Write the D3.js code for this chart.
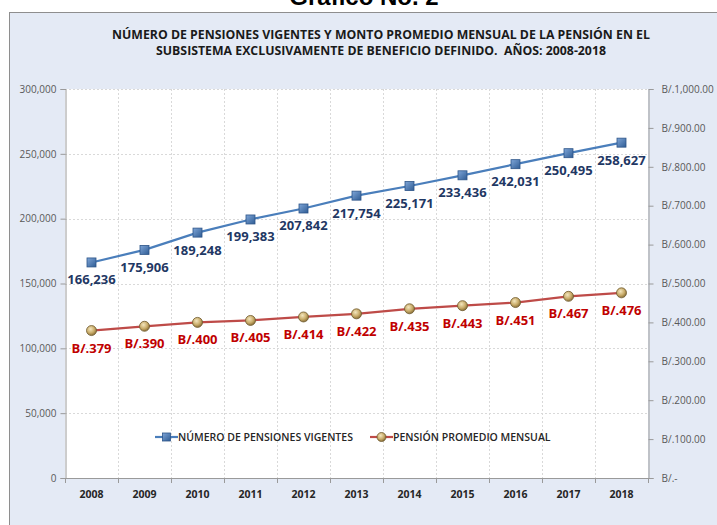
<!DOCTYPE html>
<html>
<head>
<meta charset="utf-8">
<title>Gráfico No. 2</title>
<script src="https://cdn.jsdelivr.net/npm/d3@7"></script>
<style>
  body { margin: 0; background: #fff; }
  svg { display: block; font-family: "Open Sans", "Noto Sans", sans-serif; }
</style>
</head>
<body>
<div id="chart"></div>
<script>
var years = ["2008", "2009", "2010", "2011", "2012", "2013", "2014", "2015", "2016", "2017", "2018"];
var pensiones = [166236, 175906, 189248, 199383, 207842, 217754, 225171, 233436, 242031, 250495, 258627];
var montos = [379, 390, 400, 405, 414, 422, 435, 443, 451, 467, 476];
var leftTicks = [0, 50000, 100000, 150000, 200000, 250000, 300000];
var rightTicks = [0, 100, 200, 300, 400, 500, 600, 700, 800, 900, 1000];
var rightTickLabels = ["B/.-", "B/.100.00", "B/.200.00", "B/.300.00", "B/.400.00", "B/.500.00",
  "B/.600.00", "B/.700.00", "B/.800.00", "B/.900.00", "B/.1,000.00"];
var titleLines = ["NÚMERO DE PENSIONES VIGENTES Y MONTO PROMEDIO MENSUAL DE LA PENSIÓN EN EL",
  "SUBSISTEMA EXCLUSIVAMENTE DE BENEFICIO DEFINIDO.  AÑOS: 2008-2018"];
var seriesNames = ["NÚMERO DE PENSIONES VIGENTES", "PENSIÓN PROMEDIO MENSUAL"];

var W = 717, H = 525;
var plot = {left: 65, right: 648, top: 89, bottom: 478};
var blue = "#4A7EBB", red = "#BE4B48";

var svg = d3.select("#chart").append("svg").attr("width", W).attr("height", H);

var defs = svg.append("defs");
var gSq = defs.append("linearGradient").attr("id", "gsq").attr("x1", 0).attr("y1", 0).attr("x2", 1).attr("y2", 1);
gSq.append("stop").attr("offset", "0%").attr("stop-color", "#7FA6D8");
gSq.append("stop").attr("offset", "100%").attr("stop-color", "#2F5C94");
var gCi = defs.append("radialGradient").attr("id", "gci").attr("cx", "40%").attr("cy", "35%").attr("r", "65%");
gCi.append("stop").attr("offset", "0%").attr("stop-color", "#F3E6BE");
gCi.append("stop").attr("offset", "60%").attr("stop-color", "#C9AC6A");
gCi.append("stop").attr("offset", "100%").attr("stop-color", "#8A7038");

// page heading, mostly above the top edge as in the scan
svg.append("text").attr("x", 364).attr("y", 5)
  .attr("text-anchor", "middle")
  .style("font-family", "'Liberation Sans', Arial, sans-serif")
  .style("font-weight", "bold").style("font-size", "24px").style("fill", "#000")
  .text("Gráfico No. 2");

// chart panel
svg.append("rect").attr("x", 9.5).attr("y", 12.5).attr("width", W).attr("height", H)
  .attr("fill", "#E4EAF5").attr("stroke", "#8E8E8E").attr("stroke-width", 1);

svg.selectAll("text.title").data(titleLines).enter().append("text")
  .attr("class", "title")
  .attr("x", 381).attr("y", function(d, i) { return 39 + i * 16; })
  .attr("text-anchor", "middle")
  .style("white-space", "pre")
  .style("font-weight", "bold").style("font-size", "12.3px").style("fill", "#1A1A1A")
  .text(function(d) { return d; });

svg.append("rect").attr("x", plot.left).attr("y", plot.top)
  .attr("width", plot.right - plot.left).attr("height", plot.bottom - plot.top)
  .attr("fill", "#fff");

var x = d3.scaleBand().domain(years).range([plot.left, plot.right]);
var yL = d3.scaleLinear().domain([0, 300000]).range([plot.bottom, plot.top]);
var yR = d3.scaleLinear().domain([0, 1000]).range([plot.bottom, plot.top]);
var cx = function(d) { return x(d) + x.bandwidth() / 2; };

// grid
svg.append("g").selectAll("line").data(leftTicks.slice(1)).enter().append("line")
  .attr("x1", plot.left).attr("x2", plot.right)
  .attr("y1", function(d) { return Math.round(yL(d)) + 0.5; })
  .attr("y2", function(d) { return Math.round(yL(d)) + 0.5; })
  .attr("stroke", "#D9D9D9").attr("stroke-dasharray", "2,2");
svg.append("g").selectAll("line").data(years.slice(1)).enter().append("line")
  .attr("x1", function(d) { return Math.round(x(d)) + 0.5; })
  .attr("x2", function(d) { return Math.round(x(d)) + 0.5; })
  .attr("y1", plot.top).attr("y2", plot.bottom)
  .attr("stroke", "#D9D9D9").attr("stroke-dasharray", "2,2");

// axes
var axisColor = "#9A9A9A";
var left = svg.append("g").attr("transform", "translate(" + (plot.left + 0.5) + ",0)")
  .call(d3.axisLeft(yL).tickValues(leftTicks).tickSize(5).tickPadding(4).tickFormat(d3.format(",")));
var right = svg.append("g").attr("transform", "translate(" + (plot.right + 0.5) + ",0)")
  .call(d3.axisRight(yR).tickValues(rightTicks).tickSize(5).tickPadding(8)
    .tickFormat(function(d, i) { return rightTickLabels[i]; }));
var bottom = svg.append("g").attr("transform", "translate(0," + (plot.bottom + 0.5) + ")")
  .call(d3.axisBottom(x).tickSize(0).tickPadding(12));
svg.append("g").selectAll("line").data(years.concat(["end"])).enter().append("line")
  .attr("x1", function(d, i) { return Math.round(plot.left + i * x.bandwidth()) + 0.5; })
  .attr("x2", function(d, i) { return Math.round(plot.left + i * x.bandwidth()) + 0.5; })
  .attr("y1", plot.bottom).attr("y2", plot.bottom + 5)
  .attr("stroke", axisColor);

[left, right, bottom].forEach(function(g) {
  g.select(".domain").attr("stroke", axisColor);
  g.selectAll(".tick line").attr("stroke", axisColor);
  g.selectAll("text").style("font-family", "'Open Sans', sans-serif").style("font-size", "10px").style("fill", "#595959");
});
bottom.selectAll("text").style("font-weight", "bold").style("font-size", "10.5px").style("fill", "#262626");
bottom.select(".domain").attr("d", "M" + plot.left + ",0H" + plot.right);

// series lines
var lineL = d3.line().x(function(d, i) { return cx(years[i]); }).y(function(d) { return yL(d); });
var lineR = d3.line().x(function(d, i) { return cx(years[i]); }).y(function(d) { return yR(d); });

svg.append("path").datum(pensiones).attr("d", lineL)
  .attr("fill", "none").attr("stroke", blue).attr("stroke-width", 2.2);
svg.append("path").datum(montos).attr("d", lineR)
  .attr("fill", "none").attr("stroke", red).attr("stroke-width", 2.2);

svg.append("g").selectAll("rect").data(pensiones).enter().append("rect")
  .attr("x", function(d, i) { return cx(years[i]) - 4.5; })
  .attr("y", function(d) { return yL(d) - 4.5; })
  .attr("width", 9).attr("height", 9)
  .attr("fill", "url(#gsq)").attr("stroke", "#2C5488").attr("stroke-width", 0.8);
svg.append("g").selectAll("circle").data(montos).enter().append("circle")
  .attr("cx", function(d, i) { return cx(years[i]); })
  .attr("cy", function(d) { return yR(d); })
  .attr("r", 5)
  .attr("fill", "url(#gci)").attr("stroke", "#6E5A2E").attr("stroke-width", 0.8);

// data labels
svg.append("g").selectAll("text").data(pensiones).enter().append("text")
  .attr("x", function(d, i) { return cx(years[i]); })
  .attr("y", function(d) { return yL(d) + 22; })
  .attr("text-anchor", "middle")
  .style("font-weight", "bold").style("font-size", "13px").style("fill", "#1F3864")
  .text(d3.format(","));
svg.append("g").selectAll("text").data(montos).enter().append("text")
  .attr("x", function(d, i) { return cx(years[i]); })
  .attr("y", function(d) { return yR(d) + 22; })
  .attr("text-anchor", "middle")
  .style("font-weight", "bold").style("font-size", "13px").style("fill", "#C00000")
  .text(function(d) { return "B/." + d; });

// legend
var legend = svg.append("g").attr("transform", "translate(0,437)");
var items = legend.selectAll("g").data(seriesNames).enter().append("g")
  .attr("transform", function(d, i) { return "translate(" + [155, 370][i] + ",0)"; });
items.append("line").attr("x1", 0).attr("x2", 23).attr("y1", 0).attr("y2", 0)
  .attr("stroke", function(d, i) { return i ? red : blue; }).attr("stroke-width", 2.2);
items.filter(function(d, i) { return i === 0; }).append("rect")
  .attr("x", 7.5).attr("y", -4).attr("width", 8).attr("height", 8)
  .attr("fill", "url(#gsq)").attr("stroke", "#2C5488").attr("stroke-width", 0.8);
items.filter(function(d, i) { return i === 1; }).append("circle")
  .attr("cx", 11.5).attr("cy", 0).attr("r", 4.5)
  .attr("fill", "url(#gci)").attr("stroke", "#6E5A2E").attr("stroke-width", 0.8);
items.append("text").attr("x", 23).attr("y", 4)
  .style("font-weight", "600").style("font-size", "10.5px").style("fill", "#262626")
  .text(function(d) { return d; });
</script>
</body>
</html>
